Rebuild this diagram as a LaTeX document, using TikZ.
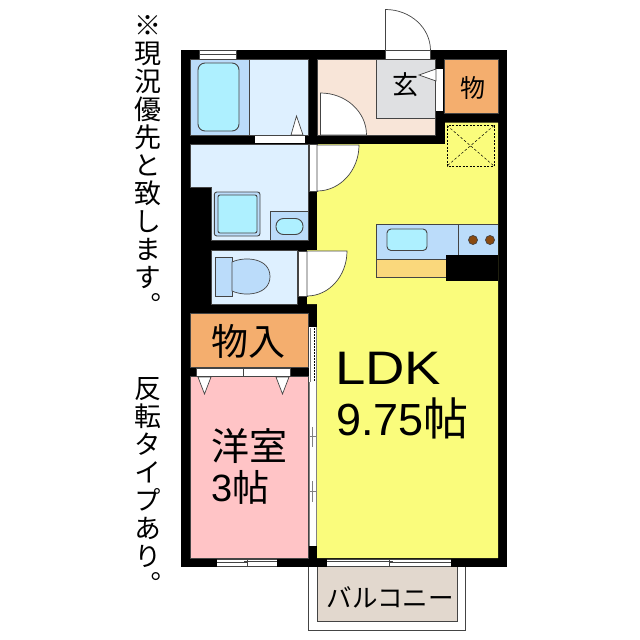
\documentclass[tikz,border=0pt]{standalone}
\usepackage{fontspec}
\setmainfont{Liberation Sans}
\newfontfamily\cjk{Noto Sans CJK JP}
\newfontfamily\cjkv[RawFeature=+vert]{Noto Sans CJK JP}
\definecolor{wash}{HTML}{DEF0FF}
\definecolor{fix}{HTML}{BBDCFA}
\definecolor{aqua}{HTML}{AEF0FF}
\definecolor{beige}{HTML}{F8E5D8}
\definecolor{gen}{HTML}{DFE0E2}
\definecolor{orng}{HTML}{F4AE6E}
\definecolor{yel}{HTML}{FAFC7C}
\definecolor{pnk}{HTML}{FFC4C6}
\definecolor{blc}{HTML}{E2D8CE}
\definecolor{cnt}{HTML}{FAD87C}
\definecolor{ln}{HTML}{444444}
\definecolor{brn}{HTML}{8A4A10}
\tikzset{
  room/.style={draw=ln,line width=.7pt},
  fixt/.style={draw=ln,line width=.9pt},
  wht/.style={fill=white,draw=ln,line width=.6pt},
  txt/.style={inner sep=0pt,font=\cjk,text=black},
  vert/.style={inner sep=0pt,align=center,anchor=north},
}
\begin{document}
\begin{tikzpicture}[x=1pt,y=-1pt,line join=miter]
\useasboundingbox (0,0) rectangle (640,640);
% balcony
\draw[ln,fill=white,line width=.8pt] (308.5,560) rectangle (465,630);
\draw[room,fill=blc] (317,560) rectangle (457,621.5);
% walls
\fill[black] (181,50) rectangle (507,567);
% rooms
\fill[yel] (317,144) -- (445,144) -- (445,122.5) -- (498,122.5) -- (498,558) -- (317,558) -- (317,304) -- (307,304) -- (307,250) -- (317,250) -- cycle;
\fill[black] (446,254.5) rectangle (498,281);
\draw[room,fill=fix] (190.7,59.5) rectangle (249,135);
\draw[room,fill=wash] (249,59.5) rectangle (308,135);
\draw[room,fill=beige] (317.5,59.5) rectangle (435.5,135);
\draw[room,fill=gen] (376,59.5) rectangle (435.5,118);
\draw[room,fill=orng] (444.5,59.5) rectangle (498,113);
\draw[room,fill=wash] (190.7,144) -- (308.3,144) -- (308.3,240) -- (211.7,240) -- (211.7,187) -- (190.7,187) -- cycle;
\draw[room,fill=wash] (211.7,250) rectangle (297.5,304);
\draw[room,fill=orng] (190.7,313.5) rectangle (308.3,367.5);
\draw[room,fill=pnk] (190.7,376.5) rectangle (308.3,558);
% bath
\draw[fixt,fill=aqua,rounded corners=7pt] (198,63) rectangle (239,131);
\node[wht,minimum width=37pt,minimum height=8.5pt,inner sep=0pt] (w1) at (217.5,54.7) {};
\draw[ln,line width=.6pt] (w1.west) -- (w1.east);
\fill[white] (255,135.4) rectangle (305,143.2);
\draw[ln,line width=.7pt,fill=white] (291,135) -- (296.5,116) -- (303,135) -- cycle;
\draw[ln,line width=.6pt] (255,135) -- (305,135);
% entry doors
\fill[white] (386,50.5) rectangle (430.5,59);
\draw[ln,line width=.7pt,fill=white] (385.5,50.5) -- (385.5,9.5) arc[start angle=90,end angle=0,x radius=45pt,y radius=41pt] -- cycle;
\draw[ln,line width=.6pt] (385.5,50.5) rectangle (430.5,59);
\fill[white] (436,68.5) rectangle (443,111);
\draw[ln,line width=.7pt,fill=white] (436,69) -- (419,75) -- (436,81) -- cycle;
\draw[ln,line width=.7pt,fill=white] (320.5,135) -- (320.5,93) arc[start angle=90,end angle=0,x radius=46pt,y radius=42pt] -- cycle;
% dashed hatch
\draw[black,line width=.6pt,dash pattern=on 2pt off 1.5pt] (447,125.5) rectangle (494,166);
\draw[black,line width=.5pt,dash pattern=on 2.5pt off 2pt] (447,125.5) -- (494,166) (494,125.5) -- (447,166);
% wash fixtures
\draw[fixt,fill=fix,rounded corners=2.5pt] (214.3,192) rectangle (260,236);
\draw[fixt,fill=aqua,rounded corners=2pt] (218,195) rectangle (257,233);
\draw[room,fill=fix] (270.5,211.5) rectangle (308.3,240);
\draw[fixt,fill=aqua,rounded corners=7.5pt] (276,218.5) rectangle (303,234.5);
% wash door
\draw[ln,line width=.6pt,fill=white] (309,144.5) rectangle (317,191.5);
\draw[ln,line width=.7pt,fill=white] (317,145) -- (359,145) arc[start angle=0,end angle=-90,x radius=42pt,y radius=46pt] -- cycle;
% toilet
\draw[room,fill=fix] (215,257) rectangle (232,296.5);
\draw[room,fill=fix] (232,262) .. controls (245,256) and (270,258) .. (270,276.5) .. controls (270,295) and (245,297) .. (232,291) -- cycle;
\draw[ln,line width=.6pt,fill=white] (298.5,251) rectangle (307,296.5);
\draw[ln,line width=.7pt,fill=white] (307,251) -- (347,251) arc[start angle=0,end angle=-90,x radius=40pt,y radius=45pt] -- cycle;
% kitchen
\draw[room,fill=cnt] (376,259.5) rectangle (446,277);
\draw[room,fill=fix] (376,224) rectangle (446,259.5);
\fill[fix] (446,224) rectangle (498,254.5);
\draw[room] (376,224) -- (498,224);
\draw[room] (458.5,224) -- (458.5,254.5);
\fill[black] (446,254.5) rectangle (498,281);
\draw[fixt,fill=aqua,rounded corners=4pt] (387,229) rectangle (427,250.5);
\draw[ln,line width=.7pt,fill=brn] (473,240) circle[radius=4.5pt];
\draw[ln,line width=.7pt,fill=brn] (490,240) circle[radius=4.5pt];
% closet doors
\draw[ln,line width=.5pt,fill=white] (196.5,368) rectangle (290.5,376.5);
\draw[ln,line width=.6pt] (243.5,368) -- (243.5,377);
\draw[ln,line width=.7pt,fill=white] (198,377) -- (204.5,394) -- (211,377) -- cycle;
\draw[ln,line width=.7pt,fill=white] (276,377) -- (282.5,394) -- (289,377) -- cycle;
% sliding door
\fill[white] (309,327) rectangle (316.5,546);
\draw[gray,line width=.8pt] (309,382) -- (309,546);
\draw[gray,line width=1pt] (316.5,327) -- (316.5,546);
\draw[black,line width=.8pt,dash pattern=on 1.5pt off 1.5pt] (314.5,328) -- (314.5,382);
\draw[gray,line width=.6pt] (310.5,328) -- (310.5,382);
\draw[gray,line width=.6pt] (309,436.5) -- (317,436.5) (312.3,427) -- (312.3,447);
\draw[gray,line width=.6pt] (309,491.7) -- (317,491.7) (312.3,481) -- (312.3,502);
% windows
\fill[white] (216.7,558.7) rectangle (277.3,566);
\draw[ln,line width=.6pt] (216.7,559) -- (277.3,559) (216.7,566) -- (277.3,566);
\draw[ln,line width=.6pt] (216.7,562.5) -- (247,562.5) (244,561) -- (277.3,561) (247,559) -- (247,566);
\fill[white] (326.7,558.7) rectangle (451,566);
\draw[ln,line width=.6pt] (326.7,559) -- (451,559) (326.7,566) -- (451,566);
\draw[ln,line width=.6pt] (326.7,561.5) -- (393,561.5) (389,562.5) -- (451,562.5) (389,559) -- (389,566);
% labels
\node[txt,font=\cjk\fontsize{26}{26}\selectfont] (t1) at (405,85) {玄};
\node[txt,font=\cjk\fontsize{25}{25}\selectfont] (t2) at (472.5,88) {物};
\node[txt,font=\cjk\fontsize{37}{37}\selectfont] (t3) at (248,341) {物入};
\node[inner sep=0pt,font=\fontsize{47}{47}\selectfont,anchor=base west,xscale=1.16] (t4) at (335,384) {LDK};
\node[inner sep=0pt,anchor=base west] (t5) at (336,435) {\fontsize{45}{45}\selectfont 9.75\cjk\fontsize{45}{45}\selectfont 帖};
\node[txt,font=\cjk\fontsize{38}{38}\selectfont] (t6) at (249.5,446) {洋室};
\node[inner sep=0pt,anchor=base west] (t7) at (211,501) {\fontsize{38}{38}\selectfont 3\cjk\fontsize{37}{37}\selectfont 帖};
\node[txt,font=\cjk\fontsize{25.5}{25.5}\selectfont] (t8) at (390,597) {バルコニー};
\node[vert,font=\cjkv\fontsize{27}{28}\selectfont] (v1) at (148,15) {※\\現\\況\\優\\先\\と\\致\\し\\ま\\す\\。};
\node[vert,font=\cjkv\fontsize{27}{28}\selectfont] (v2) at (148,377) {反\\転\\タ\\イ\\プ\\あ\\り\\。};
\end{tikzpicture}
\end{document}
